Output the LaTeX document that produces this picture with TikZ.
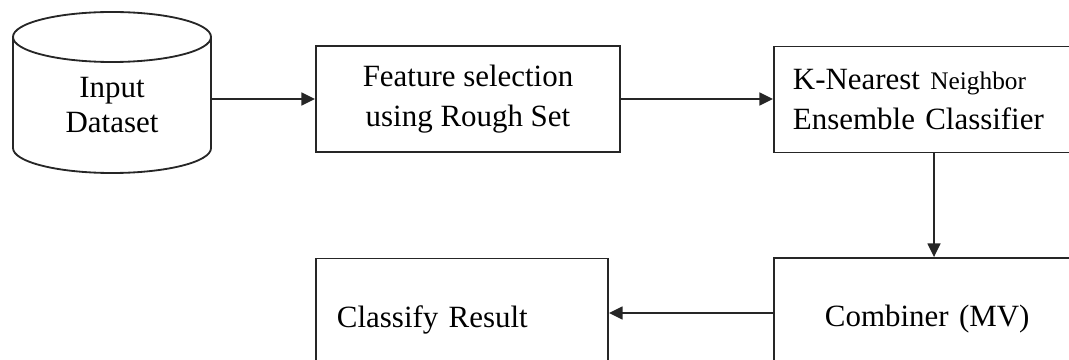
\documentclass[tikz,border=0pt]{standalone}
\usepackage{fontspec}
\setmainfont{Liberation Serif}
\usetikzlibrary{positioning,arrows.meta}
\tikzset{
  wire/.style  = {line width=1.3pt, draw=black!85},
  arr/.style   = {wire, -{Triangle[length=3.4mm,width=3.2mm]}},
  pbox/.style  = {draw=black!85, line width=1.3pt, fill=white, inner sep=0pt,
                  minimum height=2.65cm, font=\fontsize{22}{29}\selectfont},
  dlbl/.style  = {inner sep=0pt, minimum width=4.95cm, align=center,
                  font=\fontsize{22}{25}\selectfont},
}
\begin{document}
\begin{tikzpicture}[x=0.025cm, y=-0.025cm]
  \useasboundingbox (0,0) rectangle (1069,360);
  \clip (0,0) rectangle (1069,360);
  % data drum
  \draw[wire] (13,37) -- (13,148)
    arc[start angle=180, end angle=360, x radius=2.475cm, y radius=0.625cm]
    -- (211,37);
  \draw[wire] (112,37) ellipse [x radius=2.475cm, y radius=0.625cm];
  \node[dlbl] (data) at (112,105) {Input\\Dataset};
  \node[pbox, minimum width=7.6cm, align=center] (fs) at (468,99)
    {Feature selection\\using Rough Set};
  \node[pbox, minimum width=8cm, text width=7.05cm, align=left] (knn) at (934,99.5)
    {K-Nearest {\fontsize{18}{29}\selectfont Neighbor}\\Ensemble Classifier};
  \node[pbox, minimum width=8cm, minimum height=3.05cm, text width=5.45cm,
    align=left] (comb) at (934,319) {Combiner (MV)};
  \node[pbox, minimum width=7.3cm, minimum height=3.05cm, text width=6.25cm,
    align=left] (res) at (462,319.5) {Classify Result};
  \draw[arr] (data.east |- fs.west) -- (fs.west);
  \draw[arr] (fs.east) -- (fs.east -| knn.west);
  \draw[arr] (knn.south) -- (comb.north);
  \draw[arr] ([yshift=0.15cm]comb.west) -- ([yshift=0.15cm]comb.west -| res.east);
\end{tikzpicture}
\end{document}
